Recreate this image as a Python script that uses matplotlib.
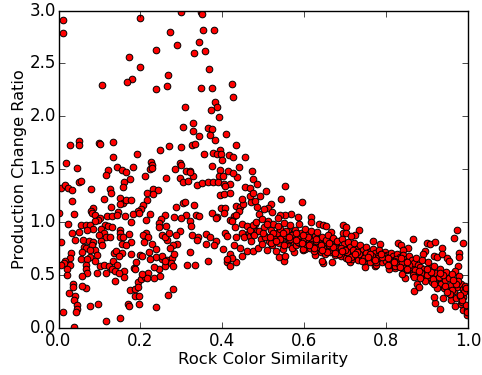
import matplotlib
matplotlib.use('Agg')
import matplotlib.pyplot as plt

# points above the main cloud
top_x = [.012,.010,.200,.299,.347,.350,.353,.380,.272,.290,.342,.330,.357,.238,.172,.199,.367,.267,.180,.167,.107,.424,.264,.237,.349,.376,.426,.383,.387,.372,.310,.393,.328,.305,.365,.376,.329,.344,.371,.410,.382,.051,.098,.101,.134,.027,.050,.269,.298,.326,.334,.433,.249,.395,.133,.192,.356,.378,.386,.398,.417,.427,.455,.399,.018,.046,.142,.181,.225,.228,.224,.229,.297,.300,.375,.441,.120,.154,.284,.312,.320,.394,.413,.472]
top_y = [2.91,2.79,2.93,2.99,2.99,2.97,2.82,2.82,2.80,2.67,2.70,2.60,2.62,2.63,2.56,2.47,2.45,2.39,2.35,2.32,2.30,2.31,2.29,2.26,2.27,2.27,2.18,2.14,2.09,2.06,2.09,1.99,1.94,1.90,1.89,1.88,1.86,1.81,1.82,1.83,1.78,1.77,1.75,1.74,1.76,1.73,1.73,1.72,1.71,1.73,1.74,1.73,1.68,1.68,1.62,1.64,1.64,1.65,1.64,1.64,1.63,1.62,1.62,1.59,1.56,1.51,1.52,1.52,1.57,1.54,1.50,1.51,1.56,1.54,1.53,1.52,1.49,1.49,1.50,1.48,1.48,1.49,1.48,1.48]

# upper middle, y about 1.0 to 1.45
mid_x = [.115,.164,.211,.175,.161,.157,.263,.297,.305,.316,.328,.322,.391,.402,.436,.426,.476,.484,.337,.351,.364,.377,.389,.403,.418,.456,.468,.005,.015,.024,.033,.050,.055,.079,.125,.128,.111,.217,.231,.243,.231,.149,.158,.151,.166,.177,.215,.206,.202,.193,.128,.033,.039,.085,.080,.082,.089,.102,.096,.090,.002,.119,.130,.145,.142,.163,.183,.196,.223,.213,.178,.259,.250,.246,.262,.246,.288,.283,.303,.309,.332,.311,.300,.320,.324,.336,.344,.374,.388,.384,.398,.407,.403,.394,.405,.420,.406,.434,.444,.450,.442,.428,.420,.424,.434,.471,.480,.491,.485,.489,.468,.476,.448]
mid_y = [1.45,1.47,1.44,1.41,1.38,1.33,1.42,1.42,1.38,1.39,1.44,1.47,1.44,1.44,1.43,1.46,1.41,1.36,1.35,1.37,1.38,1.38,1.38,1.36,1.36,1.33,1.32,1.32,1.35,1.32,1.30,1.38,1.39,1.31,1.31,1.28,1.22,1.28,1.31,1.30,1.27,1.23,1.18,1.17,1.21,1.21,1.21,1.16,1.12,1.11,1.14,1.20,1.08,1.13,1.11,1.09,1.07,1.04,1.02,1.01,1.09,1.06,1.06,1.10,1.07,1.06,1.08,1.09,1.08,1.02,1.00,1.07,1.03,.99,.96,.95,1.14,1.05,1.18,1.19,1.16,1.07,1.04,1.01,.96,1.07,1.06,1.09,1.05,1.04,1.13,1.13,1.09,1.26,1.27,1.28,1.34,1.15,1.14,1.17,1.11,1.06,1.02,1.01,1.07,1.19,1.20,1.25,1.14,1.08,1.25,1.28,1.22]

# lower left part of the cloud
low_x = [.023,.034,.054,.066,.076,.084,.070,.050,.041,.005,.060,.074,.085,.113,.103,.120,.130,.111,.100,.115,.125,.104,.107,.149,.151,.149,.157,.171,.176,.154,.166,.213,.206,.218,.210,.228,.237,.221,.200,.238,.253,.265,.277,.282,.290,.280,.272,.265,.253,.259,.271,.296,.287,.325,.341,.339,.361,.371,.361,.385,.379,.401,.322,.315,.333,.364,.412,.420,.433,.420,.424,.412,.428,.444,.448,.460,.476,.407,.411,.434,.448,.452,.464,.468,.476,.485,.448,.460,.468,.480,.432,.062,.068,.082,.090,.076,.058,.078,.054,.070,.095,.090,.101,.111,.066,.068,.070,.058,.093,.115,.123,.132,.143,.135,.141,.154,.176,.147,.031,.028,.015,.029,.020,.013,.005,.020,.036,.036,.066,.058,.026,.041,.039,.046,.044,.042,.011,.076,.096,.038,.117,.150,.139,.161,.160,.131,.137,.147,.174,.188,.194,.188,.196,.169,.171,.196,.239,.268,.280,.202,.212,.218,.216,.233,.249,.245,.233,.261,.275,.280,.184,.190,.188,.204,.194,.253,.261,.224,.204]
low_y = [.98,.90,.97,.97,.97,.94,.93,.91,.83,.81,.83,.82,.81,.97,.94,.96,.95,.90,.88,.86,.86,.82,.78,.93,.90,.86,.86,.89,.81,.79,.78,.90,.88,.86,.81,.79,.75,.72,.69,.67,.65,.64,.66,.70,.79,.78,.76,.83,.88,.86,.90,.92,.88,.88,.86,.83,.89,.86,.79,.82,.78,.75,.72,.60,.60,.63,.62,.59,.62,.70,.66,.65,.78,.76,.68,.73,.73,.90,.87,.86,.90,.86,.90,.87,.90,.92,.98,.96,.93,.98,.95,.77,.76,.78,.74,.74,.72,.67,.65,.65,.69,.63,.59,.60,.60,.56,.52,.49,.52,.52,.59,.63,.60,.71,.73,.71,.70,.68,.71,.66,.63,.60,.56,.61,.60,.50,.42,.39,.38,.40,.33,.30,.26,.22,.18,.15,.15,.21,.23,.01,.07,.09,.44,.54,.48,.56,.54,.52,.36,.37,.43,.30,.30,.23,.21,.23,.20,.31,.37,.46,.48,.52,.47,.47,.49,.56,.58,.59,.61,.59,.57,.62,.56,.51,.39,.68,.63,.65,.68]

# right hand side, the outliers of the falling band
right_x = [.554,.507,.543,.595,.519,.511,.501,.522,.568,.552,.540,.586,.617,.617,.636,.645,.653,.695,.702,.733,.666,.694,.702,.724,.715,.767,.784,.828,.837,.865,.853,.842,.899,.907,.920,.936,.974,.966,.988,.979,.977,.895,.891,.916,.924,.937,.948,.953,.910,.976,.968,.867,.931,.968,.989,.997,.997,.920,.916,.940,.958,.984,.988,.845,.838,.875,.881,.550,.538,.554,.574,.598,.602,.627,.647,.667,.643,.712,.749,.773,.808,.822]
right_y = [1.34,1.29,1.22,1.19,1.17,1.13,1.12,1.10,1.08,1.07,1.07,1.05,1.05,1.00,.98,.97,.96,.97,.95,.93,.91,.90,.90,.88,.87,.82,.79,.80,.78,.84,.76,.74,.80,.79,.81,.76,.93,.85,.80,.71,.67,.73,.70,.68,.67,.70,.66,.63,.58,.59,.54,.35,.18,.21,.17,.17,.12,.24,.29,.28,.26,.23,.29,.47,.51,.42,.39,.63,.67,.68,.72,.74,.75,.69,.61,.62,.63,.62,.58,.59,.56,.57]

# dense band, read roughly since the points overlap
band1_x = [.470,.474,.478,.482,.486,.490,.494,.498,.497,.502,.505,.509,.512,.515,.518,.521,.524,.527,.530,.533,.536,.539,.542,.545,.548,.551,.554,.557,.560,.563,.566,.569,.572,.575,.578,.581,.584,.587,.590,.593,.596,.599,.602,.605,.608,.611,.614,.617,.620,.623,.626,.629,.632,.635,.638,.641,.644,.647,.650,.653,.656,.659,.662,.665,.668,.671,.674,.677,.680,.683,.686,.689,.692,.695,.698,.701,.704,.707,.710,.713,.716,.719,.722,.725,.728,.731,.734,.737,.740,.743,.746,.749,.752,.755,.758,.761,.764,.767,.770,.773,.776,.779,.782,.785,.788,.791,.794,.797,.800,.803,.806,.809,.812,.815,.818,.821,.824,.827,.830,.833,.836,.839,.842,.845,.848,.851,.854,.857,.860,.863,.866,.869,.872,.875,.878,.881,.884,.887,.890,.893,.896,.899,.902,.905,.908,.911,.914,.917,.920,.923,.926,.929,.932,.935,.938,.941,.944,.947,.950,.953,.956,.959,.962,.965,.968,.971,.974,.977,.980,.983,.986,.989,.992,.995,.998]
band1_y = [.82,.97,.88,1.00,.76,.92,.84,1.03,.79,.95,.87,.74,1.01,.82,.93,.78,.98,.86,.73,.90,1.04,.80,.94,.85,.75,.99,.88,.79,.92,.83,.97,.76,.89,.81,.93,.78,.86,.98,.80,.90,.75,.85,.94,.79,.88,.82,.76,.92,.84,.73,.87,.80,.91,.77,.84,.72,.86,.79,.70,.83,.76,.88,.72,.80,.74,.85,.69,.78,.82,.71,.76,.68,.84,.74,.79,.66,.75,.81,.70,.77,.65,.73,.80,.68,.75,.64,.72,.78,.67,.74,.63,.70,.77,.66,.72,.62,.69,.75,.65,.71,.60,.68,.74,.64,.70,.62,.67,.72,.63,.69,.60,.66,.71,.62,.68,.59,.65,.70,.61,.67,.58,.64,.69,.60,.65,.55,.63,.68,.58,.64,.52,.61,.66,.55,.60,.49,.58,.64,.51,.56,.46,.53,.62,.48,.55,.43,.50,.59,.45,.52,.40,.47,.56,.42,.50,.38,.45,.53,.36,.47,.32,.41,.51,.35,.44,.28,.39,.49,.30,.42,.25,.37,.40,.22,.15]
band2_x = [.510,.525,.540,.555,.570,.585,.600,.615,.630,.645,.660,.675,.690,.705,.720,.735,.750,.765,.780,.795,.810,.825,.840,.855,.870,.885,.900,.915,.930,.945,.960,.975,.990]
band2_y = [.98,.90,.84,.92,.88,.81,.85,.79,.82,.76,.78,.73,.76,.72,.74,.70,.71,.68,.66,.68,.64,.65,.62,.60,.55,.52,.50,.46,.48,.40,.36,.44,.34]
band3_x = [.505,.520,.535,.550,.565,.580,.595,.610,.625,.640,.655,.670,.685,.700,.715,.730,.745,.760,.775,.790,.805,.820,.835,.850,.865,.880,.895,.910,.925,.940,.955,.970,.985]
band3_y = [.86,.80,.96,.78,.84,.90,.80,.86,.76,.78,.72,.77,.70,.74,.67,.72,.66,.70,.62,.67,.60,.63,.58,.62,.50,.54,.44,.53,.38,.50,.32,.42,.26]
band4_x = [.500,.516,.532,.548,.564,.580,.596,.612,.628,.644,.660,.676,.692,.708,.724,.740,.756,.772,.788,.804,.820,.836,.852,.868,.884,.900,.916,.932,.948,.964,.980,.996]
band4_y = [.90,.86,.82,.90,.86,.83,.88,.78,.84,.74,.80,.71,.73,.65,.70,.63,.67,.64,.70,.66,.62,.66,.56,.48,.47,.56,.42,.52,.34,.45,.31,.38]

x_ticks = [0.0, 0.2, 0.4, 0.6, 0.8, 1.0]
y_ticks = [0.0, 0.5, 1.0, 1.5, 2.0, 2.5, 3.0]

all_x = top_x + mid_x + low_x + right_x + band1_x + band2_x + band3_x + band4_x
all_y = top_y + mid_y + low_y + right_y + band1_y + band2_y + band3_y + band4_y

plt.style.use('classic')
fig = plt.figure(figsize=(4.82, 3.75), dpi=100, facecolor='white')
ax = fig.add_axes([58.5/482, 1 - 328/375, 409.5/482, 317.5/375])
ax.scatter(all_x, all_y, s=23, c='red', edgecolors='black', linewidths=0.7)
ax.set_xlim(0, 1)
ax.set_ylim(0, 3)
ax.set_xticks(x_ticks)
ax.set_yticks(y_ticks)
ax.tick_params(axis='x', labelsize=12, pad=3)
ax.tick_params(axis='y', labelsize=12, pad=2)
ax.set_xlabel('Rock Color Similarity', fontsize=11.8, labelpad=1)
ax.set_ylabel('Production Change Ratio', fontsize=11.6, labelpad=2)
fig.savefig('out.png', dpi=100, facecolor='white')
